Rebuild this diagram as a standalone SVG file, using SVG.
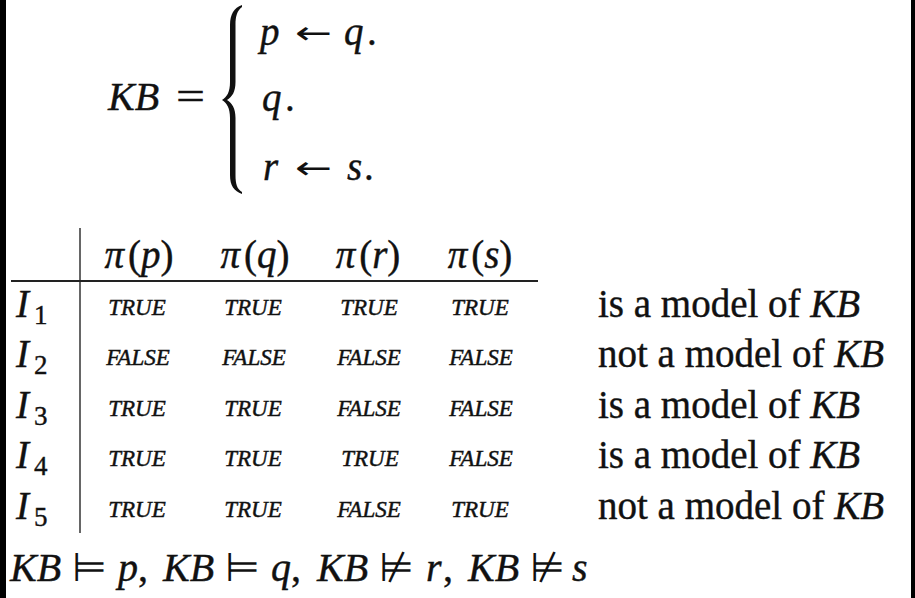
<svg xmlns="http://www.w3.org/2000/svg" width="915" height="598" viewBox="0 0 915 598" font-family="'Liberation Serif','Times New Roman','DejaVu Serif',serif">
<style>
.t{font-family:"Liberation Serif","Times New Roman","DejaVu Serif",serif;fill:#111;stroke:#111;stroke-width:0.4}
.i{font-style:italic}
.u{font-style:normal}
.big{font-size:39px}
.kb{font-size:40px}
.val{font-size:23px;font-style:italic;stroke-width:0.45}
.sub{font-size:27px}
.sym{font-family:"DejaVu Sans","Liberation Serif",sans-serif;font-style:normal;font-size:40px;stroke-width:0}
.arr{font-family:"DejaVu Sans","Liberation Serif",sans-serif;font-style:normal;font-size:32px;stroke-width:0}
.rule{stroke:#222;stroke-width:2;fill:none}
.vrule{stroke:#666;stroke-width:2;fill:none}
</style>
<rect x="0" y="0" width="915" height="598" fill="#fff"/>
<rect x="0" y="0" width="6" height="598" fill="#000"/>
<rect x="911" y="0" width="4" height="598" fill="#000"/>

<g id="kb-definition">
  <text class="t i kb" x="108" y="110">KB</text>
  <text class="t kb" x="176" y="110" textLength="29" lengthAdjust="spacingAndGlyphs">=</text>
  <path id="brace" fill="#111" d="M242,5 C234,8 230,14 230,25 L230,82 C230,92 227,97 222,100 C227,103 230,108 230,118 L230,175 C230,186 234,191 242,194 L242,192 C237,189 235.5,184 235.5,175 L235.5,118 C235.5,108 232,103 227,100 C232,97 235.5,92 235.5,82 L235.5,25 C235.5,16 237,11 242,7 Z"/>
  <g id="rule-1">
    <text class="t i big" x="260" y="45">p</text>
    <text class="t arr" x="295" y="44" textLength="37" lengthAdjust="spacingAndGlyphs">←</text>
    <text class="t i big" x="344" y="45">q</text>
    <text class="t big" x="367" y="45">.</text>
  </g>
  <g id="rule-2">
    <text class="t i big" x="262" y="111">q</text>
    <text class="t big" x="285" y="111">.</text>
  </g>
  <g id="rule-3">
    <text class="t i big" x="263" y="180">r</text>
    <text class="t arr" x="295" y="179" textLength="37" lengthAdjust="spacingAndGlyphs">←</text>
    <text class="t i big" x="347" y="180">s</text>
    <text class="t big" x="364" y="180">.</text>
  </g>
</g>

<g id="table-lines">
  <line class="vrule" x1="80" y1="228" x2="80" y2="533"/>
  <line class="rule" x1="11" y1="281" x2="538" y2="281"/>
</g>

<g id="header" text-anchor="middle">
  <text class="t big" x="139" y="268"><tspan class="i">π</tspan><tspan class="u" dx="4">(</tspan><tspan class="i">p</tspan><tspan class="u">)</tspan></text>
  <text class="t big" x="255" y="268"><tspan class="i">π</tspan><tspan class="u" dx="4">(</tspan><tspan class="i">q</tspan><tspan class="u">)</tspan></text>
  <text class="t big" x="368" y="268"><tspan class="i">π</tspan><tspan class="u" dx="4">(</tspan><tspan class="i">r</tspan><tspan class="u">)</tspan></text>
  <text class="t big" x="480" y="268"><tspan class="i">π</tspan><tspan class="u" dx="4">(</tspan><tspan class="i">s</tspan><tspan class="u">)</tspan></text>
</g>

<g id="row-1">
  <text class="t i big" x="16" y="317">I</text><text class="t sub" x="34" y="324">1</text>
  <g text-anchor="middle">
    <text class="t val" x="137" y="315">TRUE</text>
    <text class="t val" x="253" y="315">TRUE</text>
    <text class="t val" x="369" y="315">TRUE</text>
    <text class="t val" x="480" y="315">TRUE</text>
  </g>
  <text class="t big" x="598" y="317">is a model of <tspan class="i">KB</tspan></text>
</g>

<g id="row-2">
  <text class="t i big" x="16" y="367">I</text><text class="t sub" x="34" y="374">2</text>
  <g text-anchor="middle">
    <text class="t val" x="138" y="365">FALSE</text>
    <text class="t val" x="254" y="365">FALSE</text>
    <text class="t val" x="369" y="365">FALSE</text>
    <text class="t val" x="481" y="365">FALSE</text>
  </g>
  <text class="t big" x="598" y="367">not a model of <tspan class="i">KB</tspan></text>
</g>

<g id="row-3">
  <text class="t i big" x="16" y="418">I</text><text class="t sub" x="34" y="425">3</text>
  <g text-anchor="middle">
    <text class="t val" x="137" y="416">TRUE</text>
    <text class="t val" x="253" y="416">TRUE</text>
    <text class="t val" x="369" y="416">FALSE</text>
    <text class="t val" x="481" y="416">FALSE</text>
  </g>
  <text class="t big" x="598" y="418">is a model of <tspan class="i">KB</tspan></text>
</g>

<g id="row-4">
  <text class="t i big" x="16" y="468">I</text><text class="t sub" x="34" y="475">4</text>
  <g text-anchor="middle">
    <text class="t val" x="137" y="466">TRUE</text>
    <text class="t val" x="253" y="466">TRUE</text>
    <text class="t val" x="370" y="466">TRUE</text>
    <text class="t val" x="481" y="466">FALSE</text>
  </g>
  <text class="t big" x="598" y="468">is a model of <tspan class="i">KB</tspan></text>
</g>

<g id="row-5">
  <text class="t i big" x="16" y="519">I</text><text class="t sub" x="34" y="526">5</text>
  <g text-anchor="middle">
    <text class="t val" x="137" y="517">TRUE</text>
    <text class="t val" x="253" y="517">TRUE</text>
    <text class="t val" x="369" y="517">FALSE</text>
    <text class="t val" x="480" y="517">TRUE</text>
  </g>
  <text class="t big" x="598" y="519">not a model of <tspan class="i">KB</tspan></text>
</g>

<g id="entailment">
  <text class="t i kb" x="10" y="581">KB</text><text class="t sym" x="72" y="581">⊨</text><text class="t i kb" x="118" y="581">p</text><text class="t kb" x="138" y="581">,</text>
  <text class="t i kb" x="163" y="581">KB</text><text class="t sym" x="225" y="581">⊨</text><text class="t i kb" x="271" y="581">q</text><text class="t kb" x="291" y="581">,</text>
  <text class="t i kb" x="317" y="581">KB</text><text class="t sym" x="379" y="581">⊭</text><text class="t i kb" x="426" y="581">r</text><text class="t kb" x="443" y="581">,</text>
  <text class="t i kb" x="468" y="581">KB</text><text class="t sym" x="530" y="581">⊭</text><text class="t i kb" x="572" y="581">s</text>
</g>
</svg>
